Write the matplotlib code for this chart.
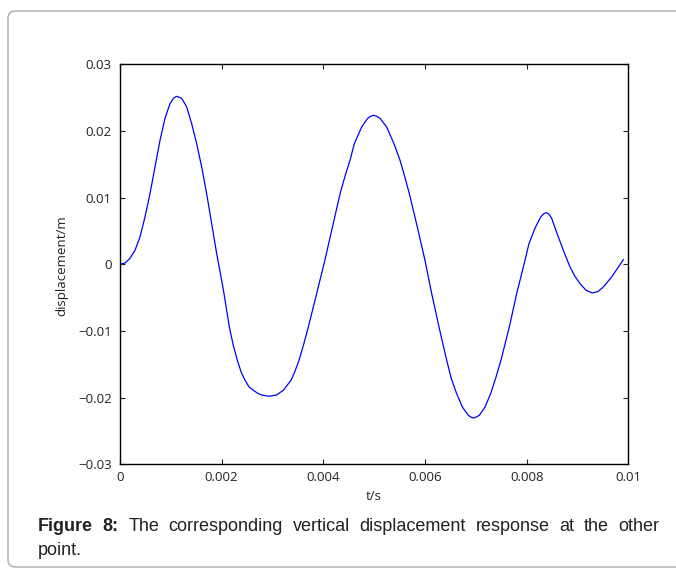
import matplotlib
matplotlib.use("Agg")
import matplotlib.pyplot as plt
from matplotlib.patches import FancyBboxPatch

# Vertical displacement response (time in ms, displacement in m)
t_ms = [0.000, 0.100, 0.197, 0.295, 0.393, 0.492, 0.590, 0.689, 0.787, 0.885,
        0.984, 1.050, 1.115, 1.213, 1.312, 1.410, 1.508, 1.607, 1.705, 1.803,
        1.902, 2.000, 2.046, 2.151, 2.230, 2.308, 2.385, 2.459, 2.540, 2.623,
        2.700, 2.780, 2.938, 3.080, 3.213, 3.364, 3.440, 3.522, 3.610, 3.705,
        3.869, 4.030, 4.180, 4.330, 4.430, 4.525, 4.610, 4.755, 4.873, 4.930,
        4.984, 5.050, 5.115, 5.246, 5.390, 5.509, 5.600, 5.692, 5.849, 6.000,
        6.132, 6.276, 6.427, 6.520, 6.623, 6.735, 6.853, 6.900, 6.951, 7.010,
        7.069, 7.181, 7.292, 7.390, 7.495, 7.659, 7.804, 7.968, 8.046, 8.164,
        8.276, 8.340, 8.394, 8.440, 8.492, 8.580, 8.722, 8.853, 8.950, 9.050,
        9.170, 9.292, 9.400, 9.509, 9.673, 9.902]
disp = [0.0000, 0.0002, 0.0009, 0.0021, 0.0041, 0.0071, 0.0106, 0.0146, 0.0186, 0.0219,
        0.0241, 0.0249, 0.0252, 0.0249, 0.0236, 0.0211, 0.0181, 0.0146, 0.0106, 0.0061,
        0.0016, -0.0024, -0.0044, -0.0094, -0.0122, -0.0144, -0.0162, -0.0174, -0.0184, -0.0189,
        -0.0193, -0.0196, -0.0198, -0.0196, -0.0189, -0.0174, -0.0161, -0.0144, -0.0121, -0.0094,
        -0.0044, 0.0006, 0.0056, 0.0106, 0.0133, 0.0156, 0.0181, 0.0206, 0.0219, 0.0222,
        0.02235, 0.0222, 0.0219, 0.0206, 0.0181, 0.0156, 0.0132, 0.0106, 0.0056, 0.0006,
        -0.0044, -0.0094, -0.0144, -0.0172, -0.0194, -0.0214, -0.02265, -0.0229, -0.02305, -0.0229,
        -0.02265, -0.0214, -0.0194, -0.0171, -0.0144, -0.0094, -0.0044, 0.0006, 0.0031, 0.0054,
        0.0071, 0.0076, 0.00775, 0.0075, 0.0069, 0.0050, 0.0021, -0.0004, -0.0018, -0.0029,
        -0.0039, -0.0043, -0.0041, -0.0034, -0.0019, 0.0007]

x_ticks = [0, 0.002, 0.004, 0.006, 0.008, 0.01]
x_tick_labels = ["0", "0.002", "0.004", "0.006", "0.008", "0.01"]
y_ticks = [-0.03, -0.02, -0.01, 0, 0.01, 0.02, 0.03]
y_tick_labels = ["\u22120.03", "\u22120.02", "\u22120.01", "0", "0.01", "0.02", "0.03"]

x_label = "t/s"
y_label = "displacement/m"
caption_bold = "Figure 8:"
caption_line1 = "The corresponding vertical displacement response at the other"
caption_line2 = "point."

t_s = [v / 1000.0 for v in t_ms]

W, H = 676, 569
fig = plt.figure(figsize=(W / 100, H / 100), dpi=100)
fig.patch.set_facecolor("white")

# Rounded page frame
frame = FancyBboxPatch((8 / W, 2 / H), 700 / W, 556 / H,
                       boxstyle="round,pad=0,rounding_size=0.012",
                       transform=fig.transFigure, fill=False,
                       edgecolor="#a9a9a9", linewidth=1.0, zorder=0)
fig.patches.append(frame)

tick_font = ["Open Sans", "DejaVu Sans"]
ax = fig.add_axes([120 / W, 1 - 464.3 / H, 508.3 / W, 400 / H])
ax.plot(t_s, disp, color="#0000ff", linewidth=0.9)
ax.set_xlim(0, 0.01)
ax.set_ylim(-0.03, 0.03)
ax.set_xticks(x_ticks)
ax.set_xticklabels(x_tick_labels, family=tick_font, fontsize=9.5, color="#222222")
ax.set_yticks(y_ticks)
ax.set_yticklabels(y_tick_labels, family=tick_font, fontsize=9.5, color="#222222")
ax.tick_params(axis="both", direction="in", length=3.6, width=0.8,
               top=True, right=True, color="#222222")
ax.tick_params(axis="x", pad=5)
ax.tick_params(axis="y", pad=6)
for sp in ax.spines.values():
    sp.set_linewidth(1.0)
    sp.set_color("black")

fig.text(374 / W, 1 - 496 / H, x_label, ha="center", va="center",
         family=tick_font, fontsize=9.5, color="#222222")
fig.text(62 / W, 1 - 266 / H, y_label, ha="center", va="center", rotation=90,
         family=tick_font, fontsize=9.5, color="#222222")

# Caption, first line justified between left and right margins
cap_family = "Liberation Sans"
cap_size = 13.0
left_px, right_px = 38, 659
base1 = 1 - 531 / H
base2 = 1 - 555 / H

words = [(w, "bold") for w in caption_bold.split()]
words += [(w, "normal") for w in caption_line1.split()]
texts = [fig.text(0, base1, w, ha="left", va="baseline", family=cap_family,
                  fontsize=cap_size, fontweight=wt, color="#222222")
         for w, wt in words]
renderer = fig.canvas.get_renderer()
widths = [t.get_window_extent(renderer).width for t in texts]
gap = (right_px - left_px - sum(widths)) / (len(widths) - 1)
x = left_px
for t, w in zip(texts, widths):
    t.set_x(x / W)
    x += w + gap

fig.text(left_px / W, base2, caption_line2, ha="left", va="baseline",
         family=cap_family, fontsize=cap_size, color="#222222")

fig.savefig("out.png", dpi=100, facecolor="white")
